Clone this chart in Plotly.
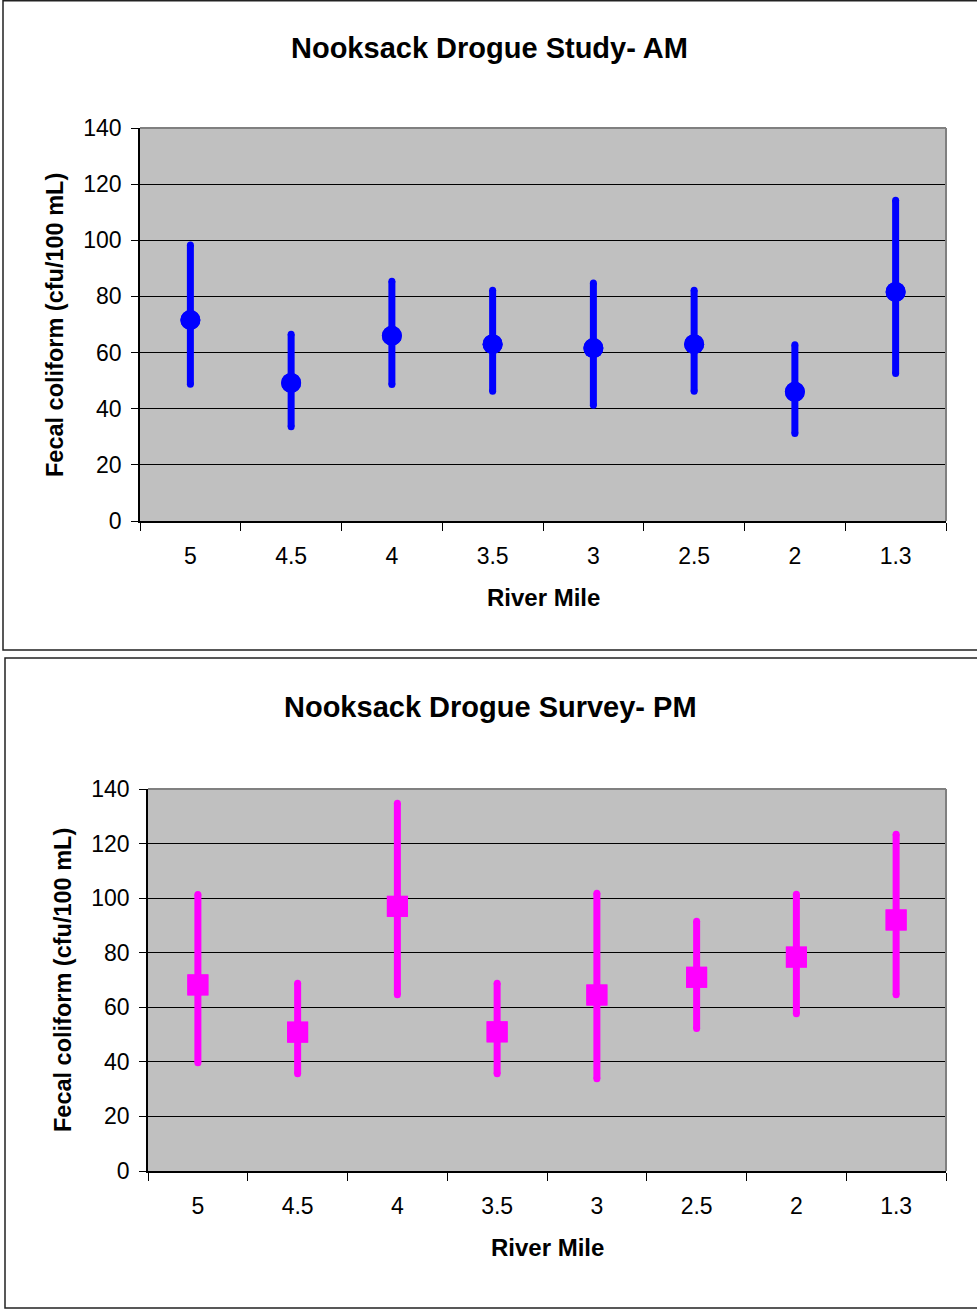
import plotly.graph_objects as go

# ---------------- data ----------------
river_mile = ["5", "4.5", "4", "3.5", "3", "2.5", "2", "1.3"]

am_mean = [71.6, 49.2, 66.0, 63.0, 61.6, 63.0, 46.0, 81.6]
am_upper = [98.3, 66.5, 85.4, 82.2, 84.8, 82.2, 62.8, 114.3]
am_lower = [48.7, 33.6, 48.6, 46.2, 41.2, 46.2, 31.2, 52.5]

pm_mean = [68.2, 50.9, 97.0, 51.0, 64.5, 71.0, 78.4, 92.0]
pm_upper = [101.3, 68.8, 134.8, 68.8, 101.8, 91.5, 101.4, 123.4]
pm_lower = [39.7, 35.6, 64.6, 35.6, 33.8, 52.2, 57.6, 64.6]

y_ticks = [0, 20, 40, 60, 80, 100, 120, 140]

# ---------------- layout helpers ----------------
W, H = 977, 1311
FONT = "Liberation Sans, Arial, Helvetica, sans-serif"


def px(x):
    return x / W


def py(y):
    return 1 - y / H


fig = go.Figure()


def add_series(mean, upper, lower, color, symbol, size, xa, ya):
    # error bars
    fig.add_trace(go.Scatter(
        x=river_mile, y=mean, mode="markers",
        marker=dict(symbol=symbol, size=size, color=color, line=dict(width=0)),
        error_y=dict(type="data", symmetric=False,
                     array=[u - m for u, m in zip(upper, mean)],
                     arrayminus=[m - l for m, l in zip(mean, lower)],
                     thickness=7, width=0, color=color),
        xaxis=xa, yaxis=ya, showlegend=False, cliponaxis=False, hoverinfo="skip",
    ))
    # round caps at the bar ends
    for ends in (upper, lower):
        fig.add_trace(go.Scatter(
            x=river_mile, y=ends, mode="markers",
            marker=dict(symbol="circle", size=7, color=color, line=dict(width=0)),
            xaxis=xa, yaxis=ya, showlegend=False, cliponaxis=False, hoverinfo="skip",
        ))
    # markers on top
    fig.add_trace(go.Scatter(
        x=river_mile, y=mean, mode="markers",
        marker=dict(symbol=symbol, size=size, color=color, line=dict(width=0)),
        xaxis=xa, yaxis=ya, showlegend=False, cliponaxis=False,
    ))


add_series(am_mean, am_upper, am_lower, "#0000FF", "circle", 20, "x", "y")
add_series(pm_mean, pm_upper, pm_lower, "#FF00FF", "square", 21, "x2", "y2")

xcommon = dict(type="category", categoryorder="array", categoryarray=river_mile,
               range=[-0.5, 7.5], showline=True, linecolor="black", linewidth=1.5,
               ticks="outside", ticklen=8, tickwidth=1, tickcolor="black",
               tickson="boundaries", showgrid=False, zeroline=False, automargin=False,
               ticklabelstandoff=14,
               tickfont=dict(family=FONT, size=23, color="black"))
ycommon = dict(range=[0, 140], tickvals=y_ticks, showgrid=True, gridcolor="black",
               gridwidth=1, ticks="outside", ticklen=7, tickwidth=1, tickcolor="black",
               showline=True, linecolor="black", linewidth=1.5, zeroline=False,
               automargin=False, ticklabelstandoff=5,
               tickfont=dict(family=FONT, size=23, color="black"))

fig.update_layout(
    width=W, height=H, margin=dict(l=0, r=0, t=0, b=0, pad=0),
    paper_bgcolor="white", plot_bgcolor="#C0C0C0",
    font=dict(family=FONT, color="black"),
    xaxis=dict(domain=[px(140), px(946)], anchor="y", **xcommon),
    yaxis=dict(domain=[py(521), py(128)], anchor="x", **ycommon),
    xaxis2=dict(domain=[px(148), px(946)], anchor="y2", **xcommon),
    yaxis2=dict(domain=[py(1171), py(789)], anchor="x2", **ycommon),
)

shapes = []
# chart outer borders
shapes.append(dict(type="rect", xref="paper", yref="paper",
                   x0=px(3), x1=px(1000), y0=py(650), y1=py(0.8),
                   line=dict(color="#222", width=1.5), fillcolor="rgba(0,0,0,0)", layer="below"))
shapes.append(dict(type="rect", xref="paper", yref="paper",
                   x0=px(5), x1=px(1000), y0=py(1308), y1=py(658),
                   line=dict(color="#222", width=1.5), fillcolor="rgba(0,0,0,0)", layer="below"))
# plot-area grey top/right border
for xr, yr in (("x domain", "y domain"), ("x2 domain", "y2 domain")):
    shapes.append(dict(type="line", xref=xr, yref=yr, x0=0, x1=1, y0=1, y1=1,
                       line=dict(color="#808080", width=2), layer="above"))
    shapes.append(dict(type="line", xref=xr, yref=yr, x0=1, x1=1, y0=0, y1=1,
                       line=dict(color="#808080", width=2), layer="above"))
fig.update_layout(shapes=shapes)

ann = []
ann.append(dict(text="<b>Nooksack Drogue Study- AM</b>", x=px(490), y=py(48),
                font=dict(size=29, family=FONT)))
ann.append(dict(text="<b>Nooksack Drogue Survey- PM</b>", x=px(491), y=py(707),
                font=dict(size=29, family=FONT)))
ann.append(dict(text="<b>River Mile</b>", x=px(543), y=py(597), font=dict(size=24, family=FONT)))
ann.append(dict(text="<b>River Mile</b>", x=px(547), y=py(1247), font=dict(size=24, family=FONT)))
ann.append(dict(text="<b>Fecal coliform (cfu/100 mL)</b>", x=px(55), y=py(325), textangle=-90,
                font=dict(size=23.5, family=FONT)))
ann.append(dict(text="<b>Fecal coliform (cfu/100 mL)</b>", x=px(63), y=py(980), textangle=-90,
                font=dict(size=23.5, family=FONT)))
for a in ann:
    a.update(xref="paper", yref="paper", xanchor="center", yanchor="middle",
             showarrow=False)
fig.update_layout(annotations=ann)

fig.write_html("out.html")
